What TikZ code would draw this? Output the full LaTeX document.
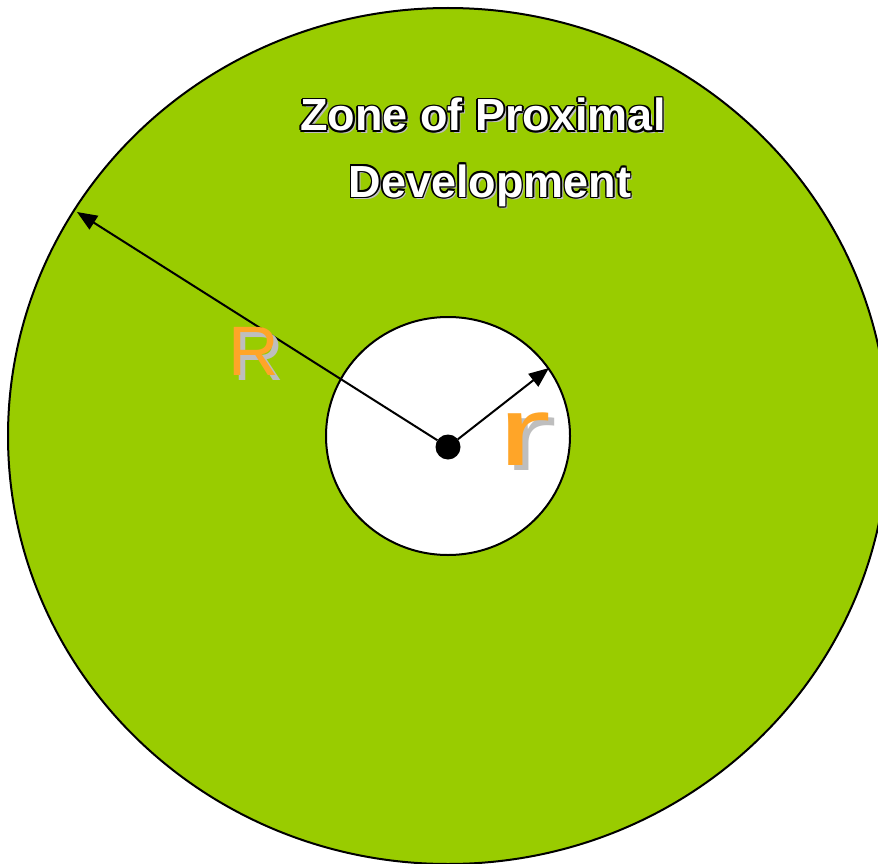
\documentclass[tikz,border=0pt]{standalone}
\usepackage{fontspec}
\setmainfont{Liberation Sans}
\usetikzlibrary{arrows.meta,shapes.geometric}
\definecolor{zpdgreen}{RGB}{153,204,0}
\definecolor{letterorange}{RGB}{255,165,40}
\definecolor{lettershadow}{RGB}{190,190,190}
\newcommand\olt[1]{%
  \rlap{\hspace{2.6pt}\raisebox{-2.6pt}{\color{lettershadow}#1}}%
  \rlap{\hspace{1.7pt}\color{black}#1}%
  \rlap{\hspace{-1.7pt}\color{black}#1}%
  \rlap{\raisebox{1.7pt}{\color{black}#1}}%
  \rlap{\raisebox{-1.7pt}{\color{black}#1}}%
  \rlap{\hspace{1.2pt}\raisebox{1.2pt}{\color{black}#1}}%
  \rlap{\hspace{-1.2pt}\raisebox{1.2pt}{\color{black}#1}}%
  \rlap{\hspace{1.2pt}\raisebox{-1.2pt}{\color{black}#1}}%
  \rlap{\hspace{-1.2pt}\raisebox{-1.2pt}{\color{black}#1}}%
  {\color{white}#1}}
\tikzset{
  ring/.style={ellipse, draw=black, line width=2pt, inner sep=0pt},
  radiusarrow/.style={draw=black, line width=2pt, -{Triangle[length=20pt,width=16pt]}},
  zonetext/.style={inner sep=0pt, anchor=base, font=\bfseries\fontsize{45}{45}\selectfont},
  bigletter/.style={inner sep=0pt, anchor=base west, font=\fontsize{70}{70}\selectfont},
  smallletter/.style={inner sep=0pt, anchor=base west, font=\fontsize{98}{98}\selectfont},
}
\begin{document}
\begin{tikzpicture}[x=1pt,y=-1pt]
\useasboundingbox (0,0) rectangle (878,864);
\node[ring, fill=zpdgreen, minimum width=880pt, minimum height=856pt] (outer) at (448,436) {};
\node[ring, fill=white, minimum width=244pt, minimum height=238pt] (inner) at (448,436) {};
\node[circle, fill=black, inner sep=0pt, minimum size=25pt, outer sep=0pt] (dot) at (448,447) {};
\coordinate (Rtip) at (77,212);
\coordinate (rtip) at (549,368);
\draw[radiusarrow] (dot) -- (Rtip);
\draw[radiusarrow] (dot) -- (rtip);
\node[zonetext] (zone1) at (483,131) {\olt{Zone of Proximal}};
\node[zonetext] (zone2) at (490,197) {\olt{Development}};
\node[bigletter, text=lettershadow] (Rshadow) at (233,380) {R};
\node[bigletter, text=letterorange] (Rletter) at (228,375) {R};
\node[smallletter, text=lettershadow] (rshadow) at (503,470) {\scalebox{1.65}[1]{r}};
\node[smallletter, text=letterorange] (rletter) at (497,465) {\scalebox{1.65}[1]{r}};
\end{tikzpicture}
\end{document}
